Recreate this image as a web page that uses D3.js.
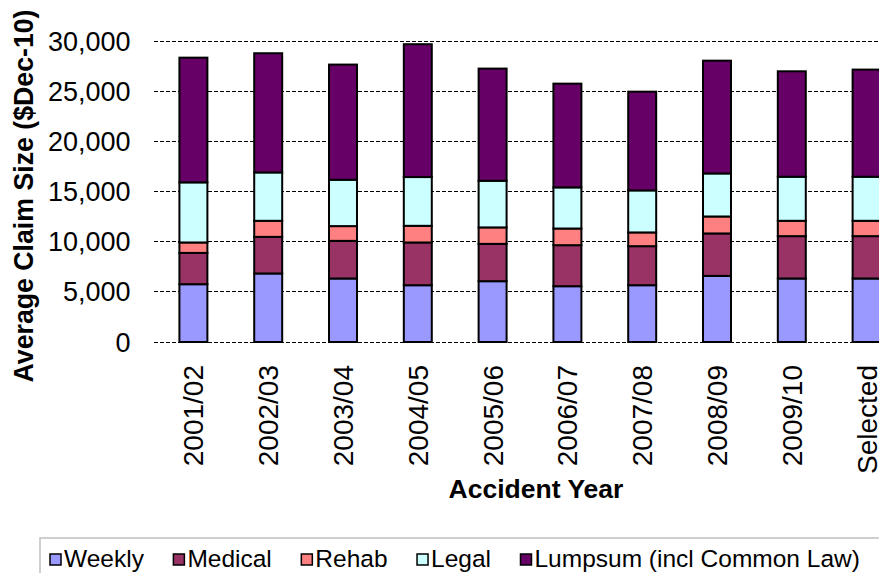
<!DOCTYPE html>
<html>
<head>
<meta charset="utf-8">
<script src="https://cdn.jsdelivr.net/npm/d3@7"></script>
<style>
    body { margin: 0; background: #fff; }
    svg { display: block; font-family: "Liberation Sans", Arial, sans-serif; }
</style>
</head>
<body>
<div id="chart"></div>
<script>
// === Data ===
const years = ["2001/02", "2002/03", "2003/04", "2004/05", "2005/06", "2006/07", "2007/08", "2008/09", "2009/10", "Selected"];
const weekly  = [5760, 6830, 6330, 5660, 6060, 5560, 5660, 6590, 6330, 6330];
const medical = [3120, 3650, 3750, 4260, 3720, 4090, 3890, 4230, 4220, 4220];
const rehab   = [1040, 1600, 1470, 1660, 1640, 1660, 1370, 1690, 1530, 1530];
const legal   = [5990, 4820, 4620, 4860, 4650, 4100, 4190, 4290, 4390, 4390];
const lumpsum = [12430, 11880, 11480, 13240, 11180, 10340, 9840, 11240, 10510, 10680];
const seriesNames = ["Weekly", "Medical", "Rehab", "Legal", "Lumpsum (incl Common Law)"];
const seriesColors = ["#9999ff", "#993366", "#ff8080", "#ccffff", "#660066"];
const yTicks = [0, 5000, 10000, 15000, 20000, 25000, 30000];

// === Setup ===
const width = 879, height = 573;
const plot = {left: 156, right: 904, top: 41, bottom: 342};

const svg = d3.select("#chart").append("svg")
    .attr("width", width).attr("height", height);

const rows = years.map((y, i) => ({
    year: y,
    Weekly: weekly[i], Medical: medical[i], Rehab: rehab[i], Legal: legal[i],
    "Lumpsum (incl Common Law)": lumpsum[i]
}));
const stacked = d3.stack().keys(seriesNames)(rows);

const x = d3.scaleBand().domain(years)
    .range([plot.left, plot.right])
    .paddingInner(0.626).paddingOuter(0.313);

const y = d3.scaleLinear().domain([0, 30000]).range([plot.bottom, plot.top]);

// gridlines (dashed, incl. zero line)
svg.append("g").selectAll("line")
    .data(yTicks)
    .join("line")
    .attr("x1", 154).attr("x2", plot.right)
    .attr("y1", d => y(d)).attr("y2", d => y(d))
    .attr("stroke", "#000").attr("stroke-width", 1)
    .attr("stroke-dasharray", "4,2")
    .attr("shape-rendering", "crispEdges");

// y tick labels
svg.append("g").selectAll("text")
    .data(yTicks)
    .join("text")
    .attr("x", 130.5).attr("y", d => y(d) + 9.5)
    .attr("text-anchor", "end")
    .attr("font-size", 27)
    .attr("fill", "#000")
    .text(d => d3.format(",")(d));

// bars
svg.append("g").selectAll("g")
    .data(stacked)
    .join("g")
    .attr("fill", (d, i) => seriesColors[i])
    .selectAll("rect")
    .data(d => d)
    .join("rect")
    .attr("x", d => x(d.data.year))
    .attr("width", x.bandwidth())
    .attr("y", d => y(d[1]))
    .attr("height", d => y(d[0]) - y(d[1]))
    .attr("stroke", "#000").attr("stroke-width", 2);

// x tick labels (rotated)
svg.append("g").selectAll("text")
    .data(years)
    .join("text")
    .attr("transform", d => `translate(${x(d) + x.bandwidth() / 2 + 10},365) rotate(-90)`)
    .attr("text-anchor", "end")
    .attr("font-size", 28)
    .text(d => d);

// axis titles
svg.append("text")
    .attr("x", 536).attr("y", 498)
    .attr("text-anchor", "middle")
    .attr("font-size", 26.5).attr("font-weight", "bold")
    .text("Accident Year");

svg.append("text")
    .attr("transform", "translate(33,196) rotate(-90)")
    .attr("text-anchor", "middle")
    .attr("font-size", 27).attr("font-weight", "bold")
    .attr("textLength", 373).attr("lengthAdjust", "spacingAndGlyphs")
    .text("Average Claim Size ($Dec-10)");

// === Legend ===
svg.append("rect")
    .attr("x", 40).attr("y", 538)
    .attr("width", 900).attr("height", 60)
    .attr("fill", "none").attr("stroke", "#c0c0c0").attr("stroke-width", 1.5);

const legend = svg.append("g");
let lx = 50;
seriesNames.forEach((name, i) => {
    const item = legend.append("g").attr("transform", `translate(${lx},0)`);
    item.append("rect")
        .attr("x", 0).attr("y", 554)
        .attr("width", 11).attr("height", 11)
        .attr("fill", seriesColors[i])
        .attr("stroke", "#000").attr("stroke-width", 1.5);
    const t = item.append("text")
        .attr("x", 14).attr("y", 567)
        .attr("font-size", 24.5)
        .text(name);
    lx += 14 + t.node().getComputedTextLength() + 29.5;
});
</script>
</body>
</html>
